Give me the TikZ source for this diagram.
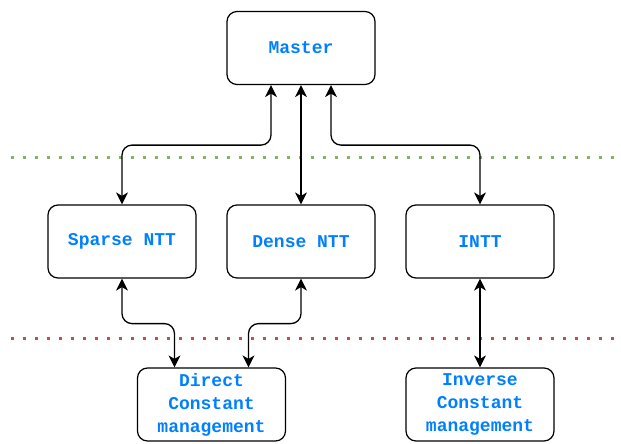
\documentclass[tikz,border=0pt]{standalone}
\usepackage{fontspec}
\setmonofont{Liberation Mono}
\usepackage{tikz}
\usetikzlibrary{arrows.meta,positioning}
\definecolor{txtblue}{RGB}{0, 127, 255}
\definecolor{sepgreen}{RGB}{130, 179, 102}
\definecolor{sepred}{RGB}{184, 84, 80}

\begin{document}
\begin{tikzpicture}[x=1pt, y=-1pt,
  box/.style={draw, line width=1.2pt, rounded corners=10pt, minimum width=148pt, minimum height=73pt,
    align=center, text=txtblue, font=\ttfamily\bfseries\fontsize{18}{23}\selectfont, inner sep=0pt},
  link/.style={line width=1.3pt, rounded corners=10pt,
    {Stealth[length=12pt,width=12pt,inset=3.5pt,sharp]}-{Stealth[length=12pt,width=12pt,inset=3.5pt,sharp]}},
  sep/.style={line width=3pt, dash pattern=on 3pt off 9pt}]
\useasboundingbox (0,0) rectangle (621,444);

% separators
\draw[sep, sepgreen] (11,157) -- (621,157);
\draw[sep, sepred] (11,338) -- (621,338);

% Top
\node[box] (master) at (301,48) {Master};

% Middle row
\node[box] (sparse) at (122,241.5) {Sparse NTT};
\node[box] (dense) at (301,241.5) {Dense NTT};
\node[box] (intt) at (480,241.5) {INTT};

% Bottom row
\node[box] (direct) at (211.5,404.5) {Direct\\Constant\\management};
\node[box] (inverse) at (480,404.5) {Inverse\\Constant\\management};

% Links
\draw[link] ([xshift=-30pt]master.south) -- ++(0,60) -| (sparse.north);
\draw[link] (master.south) -- (dense.north);
\draw[link] ([xshift=30pt]master.south) -- ++(0,60) -| (intt.north);
\draw[link] (sparse.south) -- ++(0,45) -| ([xshift=-37pt]direct.north);
\draw[link] (dense.south) -- ++(0,45) -| ([xshift=37pt]direct.north);
\draw[link] (intt.south) -- (inverse.north);
\end{tikzpicture}
\end{document}
